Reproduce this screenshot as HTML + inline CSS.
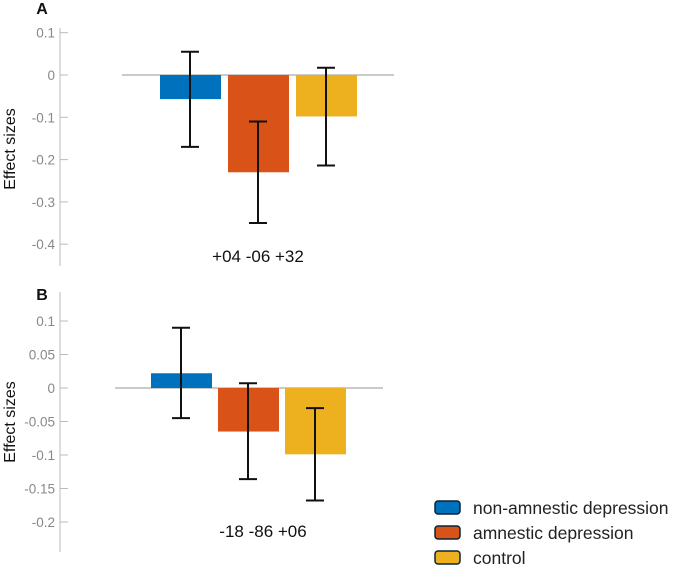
<!DOCTYPE html>
<html><head><meta charset="utf-8"><style>
body{margin:0;background:#fff;width:675px;height:566px;overflow:hidden;font-family:"Liberation Sans",sans-serif}
svg{display:block}
</style></head><body>
<svg id="c" width="675" height="566" font-family="Liberation Sans, sans-serif"></svg>
<script>
const categories=["non-amnestic depression","amnestic depression","control"];
const colors=["#0072BD","#D95319","#EDB120"];
const valuesA=[-0.057,-0.23,-0.098];
const errHiA=[0.055,-0.11,0.017];
const errLoA=[-0.17,-0.35,-0.214];
const ticksA=[0.1,0,-0.1,-0.2,-0.3,-0.4];
const tickLabelsA=["0.1","0","-0.1","-0.2","-0.3","-0.4"];
const valuesB=[0.022,-0.065,-0.099];
const errHiB=[0.09,0.007,-0.03];
const errLoB=[-0.045,-0.136,-0.168];
const ticksB=[0.1,0.05,0,-0.05,-0.1,-0.15,-0.2];
const tickLabelsB=["0.1","0.05","0","-0.05","-0.1","-0.15","-0.2"];
const NS="http://www.w3.org/2000/svg";
const svg=document.getElementById('c');
function el(t,a,p){const e=document.createElementNS(NS,t);for(const k in a)e.setAttribute(k,a[k]);(p||svg).appendChild(e);return e;}
function panel(o){
  const y=v=>o.y0-v*o.scale;
  const g=el('g',{});
  
  
  const ax=el('line',{x1:60,x2:60,y1:o.axTop,y2:o.axBot,stroke:'#bbb','stroke-width':1},g);
  
  
  o.ticks.forEach((t,i)=>{
    el('line',{x1:60,x2:68,y1:y(t),y2:y(t),stroke:'#bbb'},g);
    const tx=el('text',{x:55,y:y(t)+5,'text-anchor':'end','font-size':13.5,fill:'#888'},g);
    tx.textContent=o.tickLabels[i];
    
    
  });
  const zl=el('line',{x1:o.zx1,x2:o.zx2,y1:y(0),y2:y(0),stroke:'#aaa','stroke-width':1.2},g);
  
  
  o.values.forEach((v,i)=>{
    const cx=o.cx0+i*o.step;
    const r=el('rect',{x:cx-30,y:Math.min(y(v),y(0)),width:61,height:Math.abs(y(v)-y(0)),fill:colors[i]},g);
    
    
    const eg=el('g',{stroke:'#111','stroke-width':2},g);
    
    
    el('line',{x1:cx,x2:cx,y1:y(o.hi[i]),y2:y(o.lo[i])},eg);
    el('line',{x1:cx-9,x2:cx+9,y1:y(o.hi[i]),y2:y(o.hi[i])},eg);
    el('line',{x1:cx-9,x2:cx+9,y1:y(o.lo[i]),y2:y(o.lo[i])},eg);
  });
  const yl=el('text',{x:0,y:0,transform:`translate(15,${o.ylabY}) rotate(-90)`,'text-anchor':'middle','font-size':16,fill:'#111'},g);
  yl.textContent='Effect sizes';
  
  
  const lb=el('text',{x:o.labX,y:o.labY,'text-anchor':'middle','font-size':17,fill:'#111'},g);
  lb.textContent=o.label;
  
  
  const pl=el('text',{x:42,y:o.letterY,'text-anchor':'middle','font-size':16,'font-weight':'bold',fill:'#111'},g);
  pl.textContent=o.letter;
  
  
}
panel({name:'panel-a',y0:75,scale:423,axTop:28,axBot:266,ticks:ticksA,tickLabels:tickLabelsA,values:valuesA,hi:errHiA,lo:errLoA,zx1:122,zx2:394,cx0:190,step:68,ylabY:149,labX:258,labY:262,label:'+04 -06 +32',letter:'A',letterY:14});
panel({name:'panel-b',y0:388,scale:670,axTop:292,axBot:552,ticks:ticksB,tickLabels:tickLabelsB,values:valuesB,hi:errHiB,lo:errLoB,zx1:115,zx2:383,cx0:181,step:67,ylabY:422,labX:263,labY:537,label:'-18 -86 +06',letter:'B',letterY:300});
const lg=el('g',{});


categories.forEach((c,i)=>{
  const yy=501+i*25;
  const r=el('rect',{x:435,y:yy,width:25,height:13,rx:3,fill:colors[i],stroke:'#0b2236','stroke-width':1.5},lg);
  
  
  const t=el('text',{x:473,y:yy+13,'font-size':17.5,fill:'#222'},lg);
  t.textContent=c;
  
  
});
</script>
</body></html>
